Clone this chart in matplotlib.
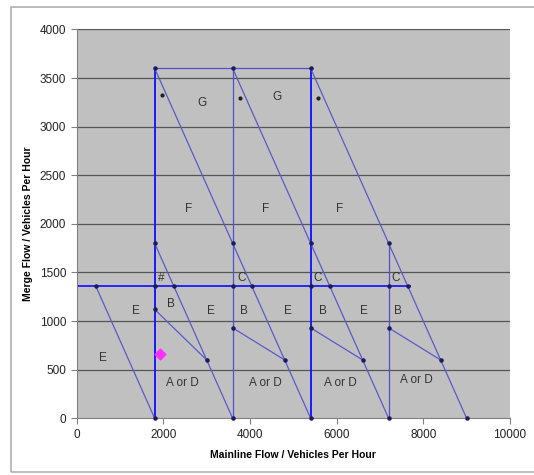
import matplotlib
matplotlib.use("Agg")
import matplotlib.pyplot as plt
from matplotlib.patches import Rectangle

plt.rcParams["font.family"] = ["Liberation Sans", "DejaVu Sans"]

# vertical boundaries: x position and top value
vert_x = [1800, 3600, 5400, 7200]
vert_top = [3600, 3600, 3600, 1800]
vert_bold = [True, False, True, False]

# diagonal boundaries x + y = const, starting at (x0, y0) and ending on the x axis
diag_sum = [1800, 3600, 5400, 7200, 9000]
diag_y0 = [1360, 1800, 3600, 3600, 3600]

# horizontal boundaries
top_y, top_x0, top_x1 = 3600, 1800, 5400
mid_y, mid_x0, mid_x1 = 1360, 0, 7700

# short B/A-or-D boundaries
b_x0 = [1800, 3600, 5400, 7200]
b_y0 = [1120, 930, 930, 930]
b_x1 = [3000, 4800, 6600, 8400]
b_y1 = [600, 600, 600, 600]

# vertices marked with dots
pt_x = [1800, 3600, 5400,
        1800, 3600, 5400, 7200,
        440, 1800, 2240, 3600, 4040, 5400, 5840, 7200, 7640,
        1800, 3600, 5400, 7200,
        3000, 4800, 6600, 8400,
        1800, 3600, 5400, 7200, 9000]
pt_y = [3600, 3600, 3600,
        1800, 1800, 1800, 1800,
        1360, 1360, 1360, 1360, 1360, 1360, 1360, 1360, 1360,
        1120, 930, 930, 930,
        600, 600, 600, 600,
        0, 0, 0, 0, 0]

# small asterisk marks near the top
star_x = [1980, 3780, 5570]
star_y = [3330, 3290, 3290]

# region labels
lab_text = ["G", "G", "F", "F", "F",
            "#", "C", "C", "C",
            "E", "E", "E", "E", "E",
            "B", "B", "B", "B",
            "A or D", "A or D", "A or D", "A or D"]
lab_x = [2900, 4620, 2590, 4370, 6080,
         1940, 3810, 5550, 7350,
         1370, 3100, 4880, 6630, 610,
         2180, 3870, 5690, 7420,
         2450, 4350, 6080, 7850]
lab_y = [3240, 3300, 2150, 2150, 2150,
         1440, 1440, 1440, 1440,
         1100, 1100, 1100, 1100, 620,
         1180, 1100, 1100, 1100,
         360, 360, 360, 395]

# operating point
op_x, op_y = 1920, 660

fig = plt.figure(figsize=(5.34, 4.75), dpi=100)
fig.patches.append(Rectangle((11 / 534, 3 / 475), 1.0, 465 / 475, transform=fig.transFigure,
                             fill=False, edgecolor="#b0b0b0", linewidth=1.2))
ax = fig.add_axes([0.1436, 0.1194, 0.8114, 0.8186])
ax.set_facecolor("#c0c0c0")

for v in range(500, 4001, 500):
    ax.axhline(v, color="#555555", linewidth=0.9, zorder=1)

for x, t, b in zip(vert_x, vert_top, vert_bold):
    ax.plot([x, x], [0, t], color="#1a1aff" if b else "#5050d0",
            linewidth=1.4 if b else 0.9, zorder=2)

for s, y0 in zip(diag_sum, diag_y0):
    ax.plot([s - y0, s], [y0, 0], color="#5a5ac8", linewidth=0.9, zorder=2)

ax.plot([top_x0, top_x1], [top_y, top_y], color="#5050d0", linewidth=0.9, zorder=2)
ax.plot([mid_x0, mid_x1], [mid_y, mid_y], color="#1a1aff", linewidth=1.3, zorder=2)

for x0, y0, x1, y1 in zip(b_x0, b_y0, b_x1, b_y1):
    ax.plot([x0, x1], [y0, y1], color="#5a5ac8", linewidth=0.9, zorder=2)

ax.scatter(pt_x, pt_y, s=5, color="#1c1c5a", zorder=3, clip_on=False)
ax.scatter(star_x, star_y, s=4, color="#202020", zorder=3)
ax.scatter([op_x], [op_y], s=30, marker="D", color="#ff30ff", zorder=4)

for t, x, y in zip(lab_text, lab_x, lab_y):
    ax.text(x, y, t, fontsize=8.5, color="#333333", ha="center", va="center", zorder=3)

ax.set_xlim(0, 10000)
ax.set_ylim(0, 4000)
ax.set_xticks(range(0, 10001, 2000))
ax.set_yticks(range(0, 4001, 500))
ax.tick_params(labelsize=8.5, colors="#222222", length=4, width=0.8, direction="out")
ax.tick_params(axis="both", color="#808080")
for side in ["top", "right"]:
    ax.spines[side].set_visible(False)
for side in ["left", "bottom"]:
    ax.spines[side].set_color("#808080")
    ax.spines[side].set_linewidth(0.8)

ax.set_xlabel("Mainline Flow / Vehicles Per Hour", fontsize=7.5, fontweight="bold", labelpad=7)
ax.set_ylabel("Merge Flow / Vehicles Per Hour", fontsize=7.5, fontweight="bold", labelpad=5)

fig.savefig("out.png", dpi=100)
